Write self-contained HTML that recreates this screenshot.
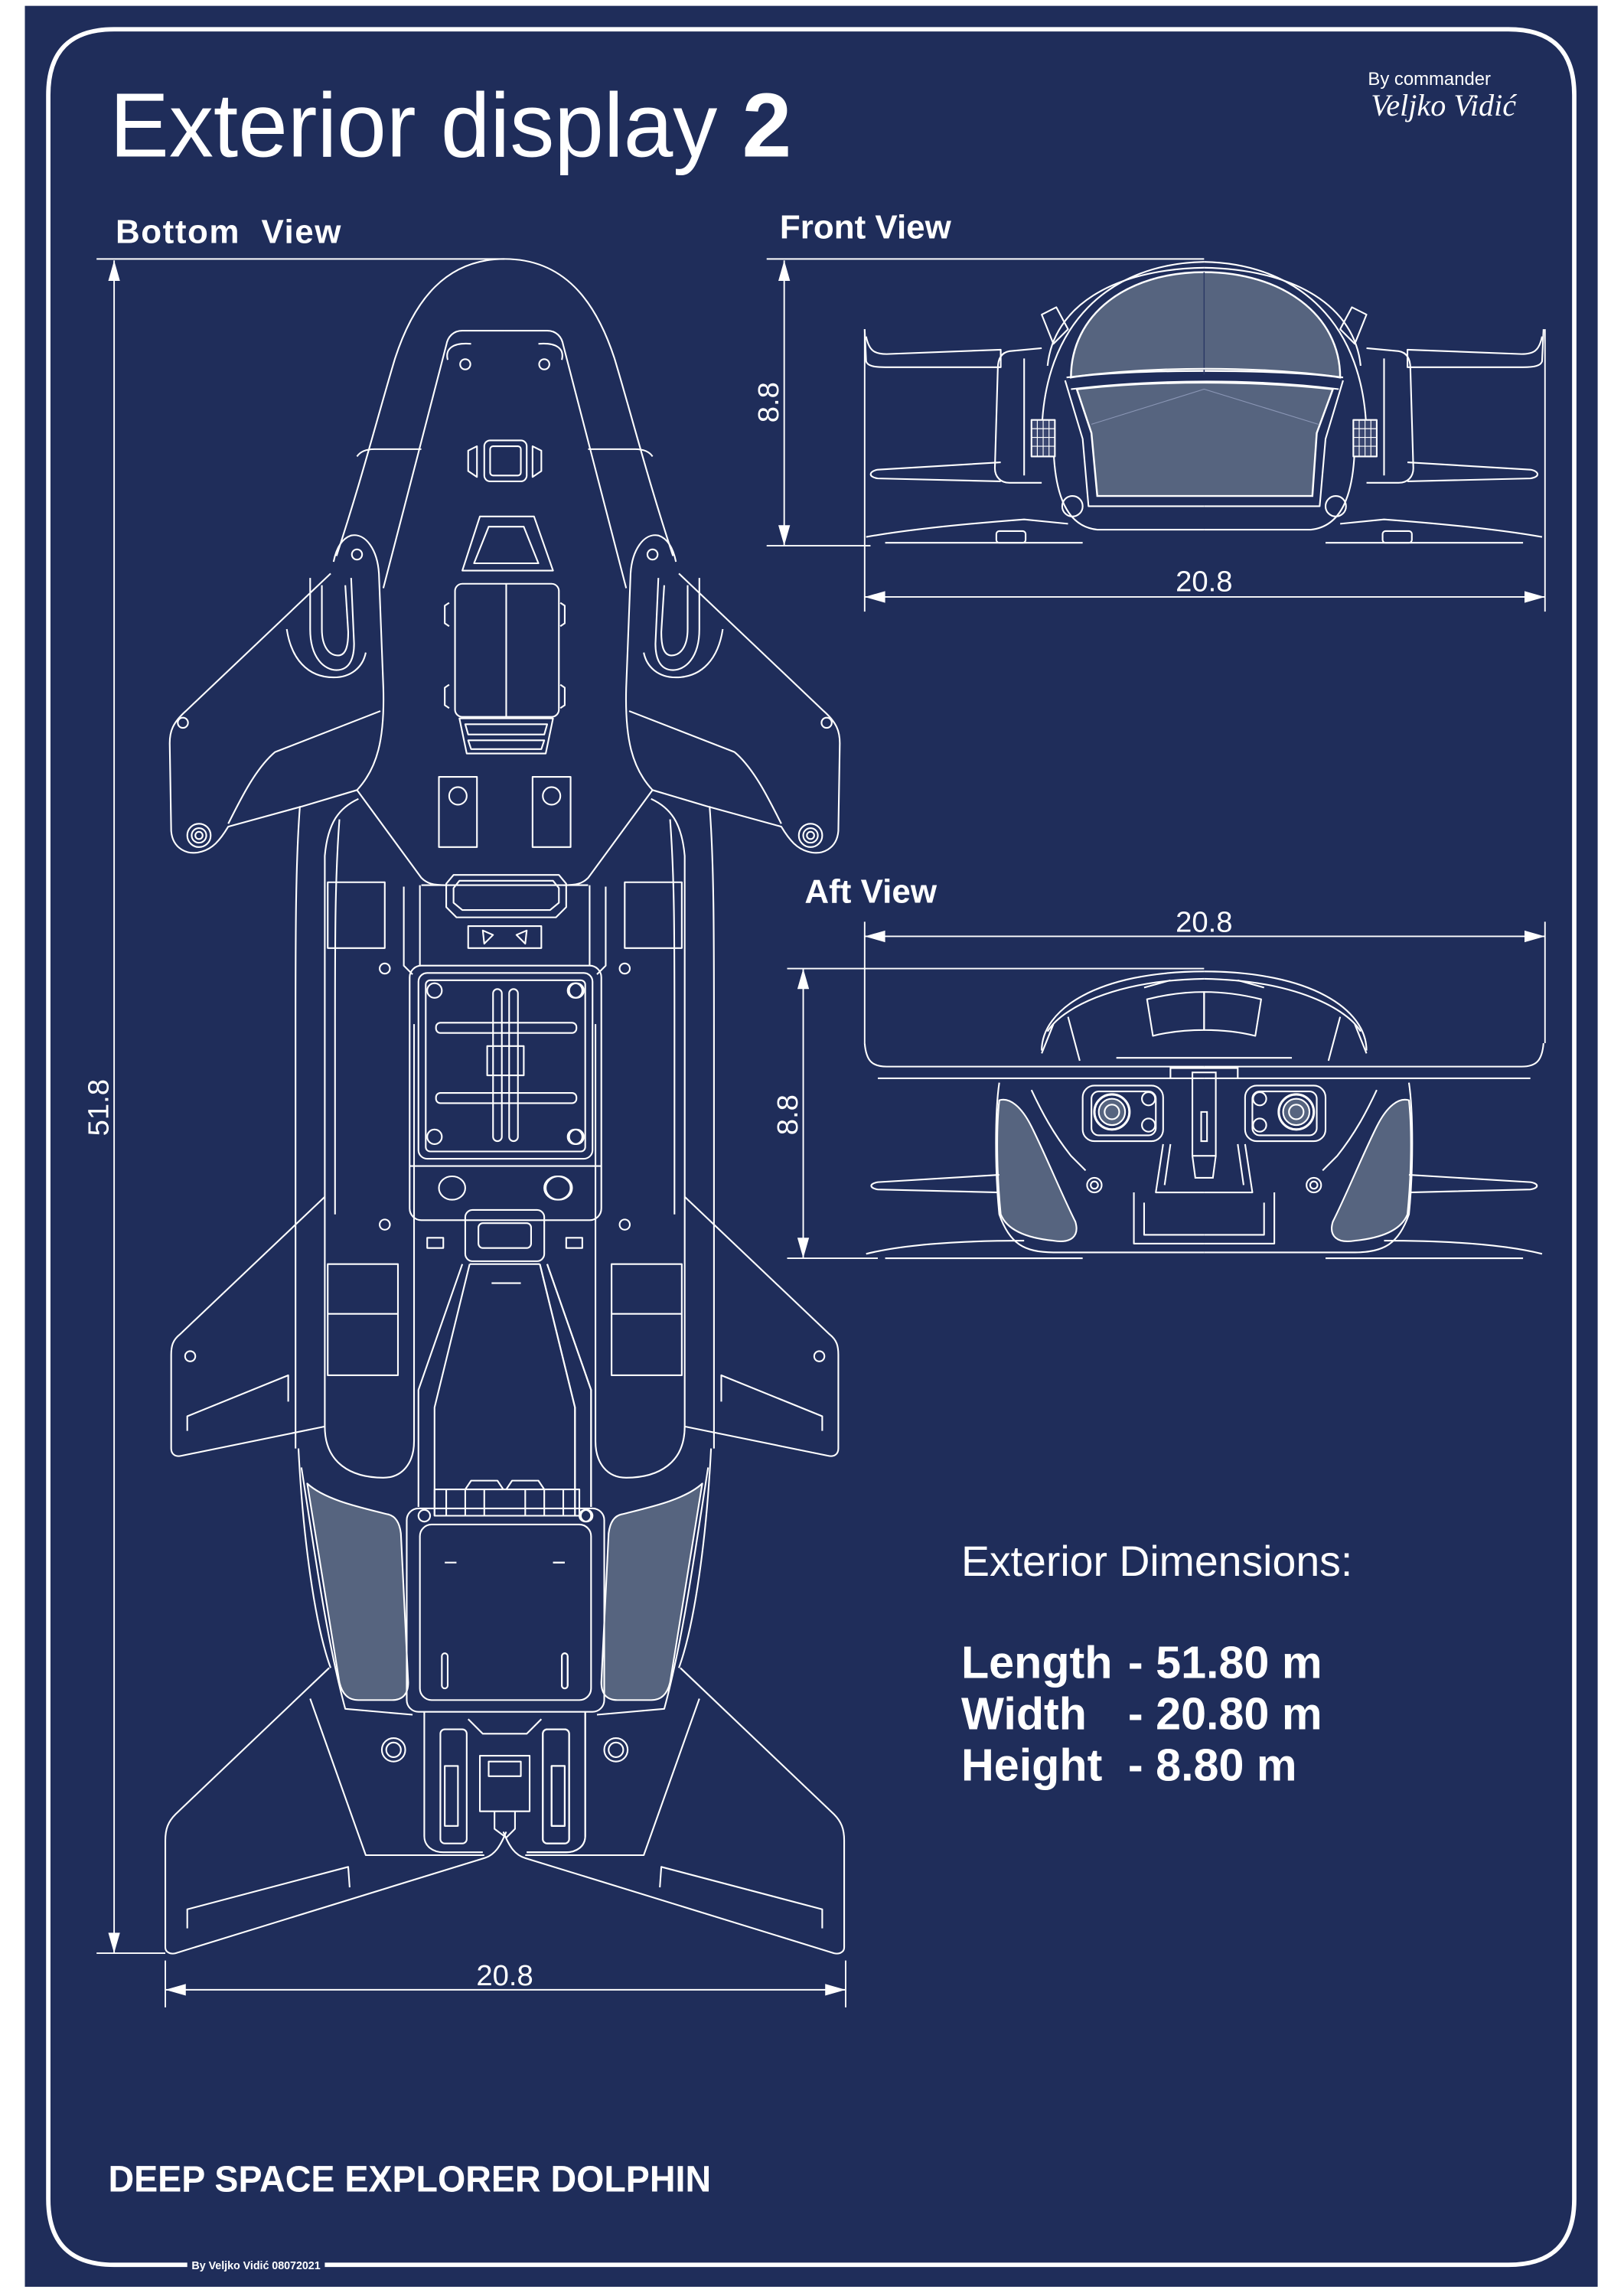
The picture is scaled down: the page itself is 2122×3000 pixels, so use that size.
<!DOCTYPE html>
<html><head><meta charset="utf-8"><style>
html,body{margin:0;padding:0;background:#fff}
svg{display:block}
text{font-family:"Liberation Sans",Arial,sans-serif;fill:#fff}
</style></head><body>
<svg width="2122" height="3000" viewBox="0 0 1110 1569.3" preserveAspectRatio="none" xmlns="http://www.w3.org/2000/svg">
<defs>
<g id="bl" fill="none" stroke="#fff" stroke-width="1.1" stroke-linejoin="round">
  <path d="M345,177 C305,177 283,205 270,245 C258,285 248,325 230,380"/>
  <path d="M244,312 C246,309 250,307 256,307 L288,307"/>
  <path d="M345,226 L316,226 C310,226 306,230 305,236 L262,402"/>
  <path d="M226,392 L127,486 C118,494 116,500 116,508 L117,568 C118,580 128,585 138,582 C145,580 150,575 156,565 L207,551 L244,540 C258,525 263,505 262,470 L259,392 C258,376 250,364 240,366 C234,368 230,374 228,384"/>
  <path d="M188,514 C175,525 165,545 156,563 M188,514 L260,486"/>
  <circle cx="136" cy="571" r="8"/><circle cx="136" cy="571" r="5"/><circle cx="136" cy="571" r="2.5"/>
  <circle cx="125" cy="494" r="3.5"/><circle cx="244" cy="379" r="3.5"/>
  <path d="M212,395 L212,430 C212,450 222,458 230,458 C240,458 242,448 242,440 L240,395"/>
  <path d="M220,400 L220,430 C220,442 225,448 231,448 C237,448 238,440 238,432 L236,400"/>
  <path d="M196,430 C199,450 210,463 228,463 C240,463 248,456 250,446"/>
  <path d="M244,540 L288,600 C292,604 296,605 305,605"/>
  <path d="M205,551 C202,590 202,640 202,700 L202,990"/>
  <path d="M245,546 C232,552 224,562 222,585 L222,975 C222,1000 240,1010 262,1010 C275,1010 283,1000 283,985 L283,700"/>
  <path d="M232,560 C229,600 229,640 229,700 L229,830"/>
  <rect x="224" y="603" width="39" height="45"/>
  <rect x="224" y="864" width="48" height="76"/><path d="M224,898 L272,898"/>
  <circle cx="263" cy="662" r="3.5"/><circle cx="263" cy="837" r="3.5"/>
  <rect x="292" y="846" width="11" height="7"/>
  <path d="M276,606 L276,660 L282,666 M287,605 L287,660"/>
  <path d="M222,818 L123,912 C118,916 117,920 117,926 L117,990 C117,994 120,996 124,995 L222,975"/>
  <path d="M128,978 L128,968 L197,940 L197,958"/>
  <circle cx="130" cy="927" r="3.5"/>
  <path d="M204,990 C207,1050 215,1110 226,1140"/>
  <path d="M210,1014 C222,1025 245,1030 265,1035 C270,1036 273,1040 274,1048 L279,1150 C279,1158 275,1162 268,1162 L245,1162 C238,1162 234,1158 232,1150 Z" fill="#56647f"/>
  <path d="M206,1003 C215,1060 223,1120 236,1168 L282,1172"/>
  <path d="M225,1140 L120,1240 C115,1245 113,1250 113,1258 L113,1331 C113,1334 116,1336 120,1335 L331,1270 C338,1268 342,1262 346,1252"/>
  <path d="M128,1318 L128,1305 L238,1276 L239,1290"/>
  <path d="M212,1161 L250,1268 L331,1268"/>
  <circle cx="269" cy="1196" r="8"/><circle cx="269" cy="1196" r="5"/>
  <path d="M290,1170 L290,1255 C290,1262 296,1266 303,1266 L330,1266"/>
  <rect x="301" y="1182" width="18" height="78" rx="3"/>
  <rect x="304" y="1207" width="9" height="41"/>
  <circle cx="290" cy="1036" r="4"/>
  <path d="M304,1068 L312,1068"/>
  <rect x="302" y="1130" width="4" height="24" rx="2"/>
  <circle cx="318" cy="249" r="3.5"/>
  <path d="M306,246 C304,238 310,234 322,235"/>
  <path d="M326,305 L320,308 L320,322 L326,326 Z"/>
  <path d="M307,412 L304,414 L304,426 L307,428 M307,468 L304,470 L304,482 L307,484"/>
  <rect x="300" y="531" width="26" height="48"/><circle cx="313" cy="544" r="6"/>
  <circle cx="297" cy="677" r="5"/><circle cx="297" cy="777" r="5"/>
  <ellipse cx="309" cy="812" rx="9" ry="8"/>
  <path d="M321,864 L297,962 L297,1036 M316,864 L286,950 L286,1030"/>
</g>
<g id="fl" fill="none" stroke="#fff" stroke-width="1.1" stroke-linejoin="round">
  <path d="M712,300 C712,220 760,180 823,179"/>
  <path d="M716,250 C720,210 760,184 823,183"/>
  <path d="M720,300 C720,340 730,360 750,362 L823,362"/>
  <path d="M728,260 L740,300 L744,346 L823,346"/>
  <circle cx="733" cy="346" r="7"/>
  <path d="M712,238 L690,240 C684,241 682,246 682,252 L680,320 C680,326 684,330 690,330 L712,330"/>
  <path d="M700,245 L700,325 M712,215 L722,210 L730,225 L720,235 Z"/>
  <rect x="705" y="287" width="16" height="25" fill="#3a4670"/>
  <path d="M709,287 V312 M713,287 V312 M717,287 V312 M705,293 H721 M705,299 H721 M705,305 H721" stroke-width="0.6"/>
  <path d="M591,225 L592,247 C593,250 597,251 605,251 L684,251 L684,239 L606,242 C598,242 594,240 592,230"/>
  <path d="M684,316 L600,321 C594,322 593,326 600,327 L684,329"/>
  <path d="M592,367 C620,362 660,358 700,355 L730,358"/>
  <path d="M605,371 L740,371"/>
  <rect x="681" y="363" width="20" height="8" rx="2"/>
  <path d="M712,718 C712,690 750,664 823,664"/>
  <path d="M716,705 C725,690 760,670 823,669"/>
  <path d="M784,683 C800,679 812,678 823,678 L823,704 C812,704 800,705 788,708 Z"/>
  <path d="M782,675 L800,670"/>
  <path d="M720,700 L712,720 M730,695 L738,725"/>
  <path d="M591,713 C592,725 596,729 606,729 L823,729 M600,737 L823,737"/>
  <path d="M683,740 C680,760 680,800 683,830 C690,850 700,856 720,856 L823,856"/>
  <path d="M683,752 C690,750 698,756 705,770 C715,790 725,815 735,835 C738,845 732,850 720,848 C700,846 688,840 684,830 C681,800 681,770 683,752 Z" fill="#56647f"/>
  <path d="M705,745 C712,760 720,775 732,790 L742,800"/>
  <rect x="740" y="742" width="55" height="38" rx="8"/>
  <rect x="746" y="746" width="44" height="30" rx="5"/>
  <circle cx="760" cy="760" r="12" stroke-width="1.6"/><circle cx="760" cy="760" r="9" fill="#56647f"/><circle cx="760" cy="760" r="5"/>
  <circle cx="785" cy="751" r="4.5"/><circle cx="785" cy="769" r="4.5"/>
  <path d="M795,782 L790,815 L823,815 M800,782 L796,810"/>
  <path d="M775,815 L775,850 L823,850 M782,822 L782,844 L823,844"/>
  <circle cx="748" cy="810" r="5"/><circle cx="748" cy="810" r="2.5"/>
  <path d="M683,803 L600,808 C594,809 594,812 600,813 L683,815"/>
  <path d="M592,857 C620,850 660,848 700,848 M605,860 L740,860"/>
</g>
</defs>
<rect x="0" y="0" width="1110" height="1569.3" fill="#fff"/>
<rect x="17" y="4" width="1075" height="1559" fill="#1f2d5a"/>
<path d="M222,1548 L1031,1548 Q1076,1548 1076,1503 L1076,65 Q1076,20 1031,20 L78,20 Q33,20 33,65 L33,1503 Q33,1548 78,1548 L128,1548" fill="none" stroke="#fff" stroke-width="3"/>
<text x="131" y="1551" font-size="7.5" font-weight="bold" textLength="88">By Veljko Vidić 08072021</text>

<text x="75" y="107" font-size="62" textLength="466" lengthAdjust="spacingAndGlyphs">Exterior display <tspan font-weight="bold">2</tspan></text>
<text x="935" y="58" font-size="12.5">By commander</text>
<text x="937" y="79" font-size="21" font-style="italic" style="font-family:'Liberation Serif',serif">Veljko Vidić</text>
<text x="79" y="166" font-size="23" font-weight="bold" textLength="154" xml:space="preserve">Bottom  View</text>
<text x="533" y="163" font-size="23" font-weight="bold">Front View</text>
<text x="550" y="617" font-size="23" font-weight="bold">Aft View</text>

<g stroke="#fff" stroke-width="1" fill="none">
  <path d="M66,177 L345,177 M78,178 L78,1335 M66,1335 L113,1335 M113,1340 L113,1372 M578,1340 L578,1372 M113,1360 L578,1360"/>
  <path d="M524,177 L823,177 M536,178 L536,373 M524,373 L595,373 M591,225 L591,418 M1056,225 L1056,418 M591,408 L1056,408"/>
  <path d="M591,630 L591,713 M1056,630 L1056,713 M591,640 L1056,640 M538,662 L823,662 M549,662 L549,860 M538,860 L600,860"/>
</g>
<g fill="#fff">
  <polygon points="78,178 74,192 82,192"/><polygon points="78,1335 74,1321 82,1321"/>
  <polygon points="113,1360 127,1356 127,1364"/><polygon points="578,1360 564,1356 564,1364"/>
  <polygon points="536,178 532,192 540,192"/><polygon points="536,373 532,359 540,359"/>
  <polygon points="591,408 605,404 605,412"/><polygon points="1056,408 1042,404 1042,412"/>
  <polygon points="591,640 605,636 605,644"/><polygon points="1056,640 1042,636 1042,644"/>
  <polygon points="549,662 545,676 553,676"/><polygon points="549,860 545,846 553,846"/>
</g>
<text font-size="20" text-anchor="middle" transform="translate(74,757) rotate(-90)">51.8</text>
<text x="345" y="1357" font-size="20" text-anchor="middle">20.8</text>
<text font-size="20" text-anchor="middle" transform="translate(532,275) rotate(-90)">8.8</text>
<text x="823" y="404" font-size="20" text-anchor="middle">20.8</text>
<text x="823" y="637" font-size="20" text-anchor="middle">20.8</text>
<text font-size="20" text-anchor="middle" transform="translate(545,762) rotate(-90)">8.8</text>

<use href="#bl"/>
<use href="#bl" transform="translate(690,0) scale(-1,1)"/>
<g fill="none" stroke="#fff" stroke-width="1.1" stroke-linejoin="round">
  <rect x="331" y="301" width="29" height="28" rx="4"/><rect x="335" y="305" width="21" height="20" rx="2"/>
  <path d="M328,353 L365,353 L378,390 L316,390 Z"/><path d="M334,360 L358,360 L368,385 L324,385 Z"/>
  <rect x="311" y="399" width="71" height="91" rx="5"/><path d="M346,399 L346,490"/>
  <path d="M314,491 L378,491 L373,515 L319,515 Z"/><path d="M318,495 L374,495 L372,502 L320,502 Z M320,506 L372,506 L370,512 L322,512 Z"/>
  <path d="M288,605 L402,605"/>
  <path d="M310,598 L382,598 L387,604 L387,620 L380,627 L312,627 L305,620 L305,604 Z"/>
  <path d="M314,602 L378,602 L382,607 L382,617 L376,622 L316,622 L310,617 L310,607 Z"/>
  <rect x="320" y="633" width="50" height="15"/>
  <path d="M330,636 L337,639 L331,645 Z M360,636 L353,639 L359,645 Z"/>
  <rect x="280" y="660" width="131" height="174" rx="8"/>
  <path d="M280,797 L411,797"/>
  <rect x="286" y="665" width="119" height="127" rx="6"/>
  <rect x="291" y="670" width="109" height="117" rx="3"/>
  <rect x="298" y="699" width="96" height="7" rx="3"/><rect x="298" y="747" width="96" height="7" rx="3"/>
  <rect x="337" y="676" width="6" height="104" rx="3"/><rect x="348" y="676" width="6" height="104" rx="3"/>
  <path d="M333,715 L358,715 L358,735 L333,735 Z"/>
  <circle cx="394" cy="677" r="5"/><circle cx="394" cy="777" r="5"/>
  <ellipse cx="382" cy="812" rx="9" ry="8"/>
  <rect x="318" y="827" width="54" height="35" rx="5"/><rect x="327" y="836" width="36" height="17" rx="3"/>
  <path d="M321,864 L369,864 M336,877 L356,877"/>
  <path d="M369,864 L393,962 L393,1036 M374,864 L404,950 L404,1030"/>
  <rect x="297" y="1018" width="99" height="18"/>
  <path d="M305,1018 V1036 M318,1018 V1036 M331,1018 V1036 M359,1018 V1036 M372,1018 V1036 M385,1018 V1036 M318,1018 L322,1012 L340,1012 L344,1018 M346,1018 L350,1012 L368,1012 L372,1018"/>
  <rect x="278" y="1031" width="135" height="139" rx="8"/>
  <rect x="287" y="1042" width="117" height="120" rx="8"/>
  <circle cx="401" cy="1036" r="4"/>
  <path d="M378,1068 L386,1068"/>
  <rect x="384" y="1130" width="4" height="24" rx="2"/>
  <path d="M400,1170 L400,1255 C400,1262 394,1266 387,1266 L360,1266"/>
  <rect x="371" y="1182" width="18" height="78" rx="3"/><rect x="377" y="1207" width="9" height="41"/>
  <path d="M320,1175 L330,1185 L360,1185 L370,1175"/>
  <rect x="328" y="1200" width="34" height="38"/><rect x="334" y="1204" width="22" height="10"/>
  <path d="M338,1238 L338,1250 L346,1256 L352,1250 L352,1238"/>
</g>

<path d="M732,258 C732,215 770,186 823,186 C876,186 916,215 916,258 C880,252 766,252 732,258 Z" fill="#56647f" stroke="#fff" stroke-width="1.3"/>
<path d="M736,266 C790,260 856,260 911,266 L900,296 L897,339 L750,339 L746,296 Z" fill="#56647f" stroke="#fff" stroke-width="1.3"/>
<path d="M823,186 L823,256" stroke="#2c3a66" stroke-width="0.8"/>
<path d="M746,290 L823,266 L901,290" stroke="#8a96b5" stroke-width="0.6" fill="none"/>
<path d="M729,258 C790,250 860,250 918,258 M732,266 C790,259 860,259 915,266" stroke="#fff" stroke-width="1.1" fill="none"/>
<use href="#fl"/>
<use href="#fl" transform="translate(1646,0) scale(-1,1)"/>
<g fill="none" stroke="#fff" stroke-width="1.1">
  <path d="M800,737 L800,730 L846,730 L846,737"/>
  <rect x="815" y="733" width="16" height="57"/>
  <path d="M821,760 L821,780 L825,780 L825,760 Z M815,790 L817,805 L829,805 L831,790"/>
  <path d="M763,723 L883,723"/>
</g>

<text x="657" y="1077" font-size="29">Exterior Dimensions:</text>
<g font-size="31" font-weight="bold">
<text x="657" y="1147">Length</text><text x="771" y="1147">- 51.80 m</text>
<text x="657" y="1182">Width</text><text x="771" y="1182">- 20.80 m</text>
<text x="657" y="1217">Height</text><text x="771" y="1217">- 8.80 m</text>
</g>
<text x="74" y="1498" font-size="25" font-weight="bold" textLength="412" lengthAdjust="spacingAndGlyphs">DEEP SPACE EXPLORER DOLPHIN</text>
</svg>
</body></html>
